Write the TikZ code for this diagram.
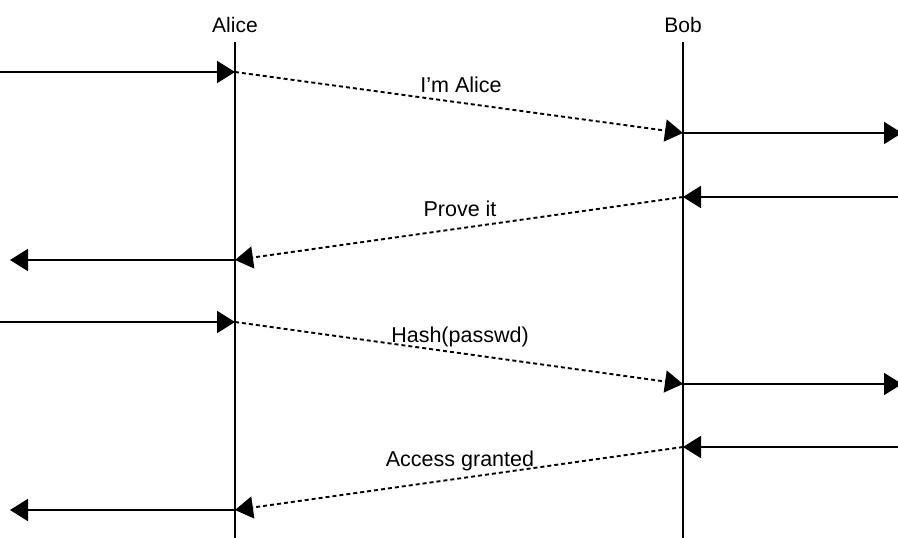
\documentclass[tikz,border=0pt]{standalone}
\usepackage{fontspec}
\setmainfont{Liberation Sans}
\usetikzlibrary{arrows.meta}

\tikzset{
  lifeline/.style={line width=1.6pt},
  msg/.style={-{Triangle[length=18pt,width=22pt]}, line width=1.9pt},
  hop/.style={msg, dash pattern=on 4pt off 3pt},
  party/.style={anchor=base, inner sep=0pt, font=\fontsize{21}{24}\selectfont},
  msglabel/.style={anchor=base, inner sep=0pt, font=\fontsize{21.5}{24}\selectfont}
}

\begin{document}
\begin{tikzpicture}[x=1pt, y=-1pt]
  \useasboundingbox (0,0) rectangle (898,538);

  % Parties and lifelines
  \node[party] (alice) at (235,32) {Alice};
  \node[party] (bob)   at (683,32) {Bob};
  \coordinate (aTop) at (235,42);  \coordinate (aBot) at (235,538);
  \coordinate (bTop) at (683,42);  \coordinate (bBot) at (683,538);
  \draw[lifeline] (aTop) -- (aBot);
  \draw[lifeline] (bTop) -- (bBot);

  % Points on the lifelines
  \coordinate (a1) at (235,72);   \coordinate (b1) at (683,133);
  \coordinate (b2) at (683,197);  \coordinate (a2) at (235,260);
  \coordinate (a3) at (235,322);  \coordinate (b3) at (683,384);
  \coordinate (b4) at (683,447);  \coordinate (a4) at (235,510);

  % Free ends at the edges
  \coordinate (in1)  at (0,72);    \coordinate (out1) at (902,133);
  \coordinate (in2)  at (898,197); \coordinate (out2) at (10,260);
  \coordinate (in3)  at (0,322);   \coordinate (out3) at (902,384);
  \coordinate (in4)  at (898,447); \coordinate (out4) at (10,510);

  % Message 1 -- I'm Alice
  \draw[msg] (in1) -- (a1);
  \draw[hop] (a1) -- (b1);
  \draw[msg] (b1) -- (out1);
  \node[msglabel] (m1) at (461,92) {I'm Alice};

  % Message 2 -- Prove it
  \draw[msg] (in2) -- (b2);
  \draw[hop] (b2) -- (a2);
  \draw[msg] (a2) -- (out2);
  \node[msglabel] (m2) at (460,216) {Prove it};

  % Message 3 -- Hash(passwd)
  \draw[msg] (in3) -- (a3);
  \draw[hop] (a3) -- (b3);
  \draw[msg] (b3) -- (out3);
  \node[msglabel] (m3) at (460,342) {Hash(passwd)};

  % Message 4 -- Access granted
  \draw[msg] (in4) -- (b4);
  \draw[hop] (b4) -- (a4);
  \draw[msg] (a4) -- (out4);
  \node[msglabel] (m4) at (460,466) {Access granted};
\end{tikzpicture}
\end{document}
